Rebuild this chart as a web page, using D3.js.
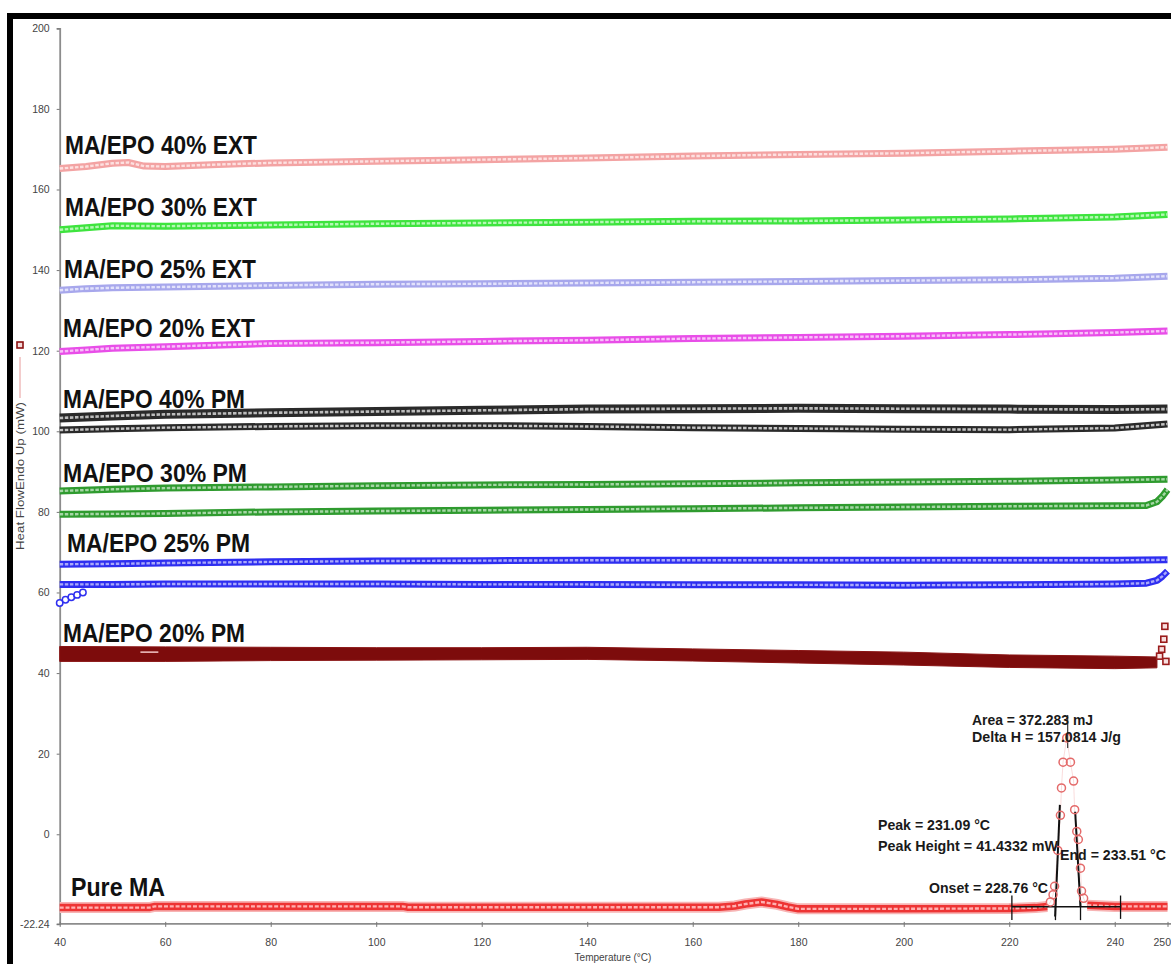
<!DOCTYPE html>
<html><head><meta charset="utf-8">
<script src="https://cdn.jsdelivr.net/npm/d3@7"></script>
<style>html,body{margin:0;padding:0;background:#fff;} svg{display:block;}</style>
</head><body><svg id="c" width="1171" height="964"></svg>
<script>
// ---------------- DATA ----------------
const xTicks = [40,60,80,100,120,140,160,180,200,220,240,250];
const yTicks = [200,180,160,140,120,100,80,60,40,20,0,-22.24];
const xLabel = "Temperature (°C)";
const yLabel = "Heat FlowEndo Up (mW)";

const tExt40 = [40,45,50,53,56,60,70,80,100,120,140,160,180,200,220,240,250];
const ma40Ext = [165.2,165.7,166.5,166.7,165.8,165.7,166.2,166.6,167.0,167.4,167.8,168.3,168.7,169.0,169.5,170.0,170.5];

const tExt = [40,45,50,60,80,100,120,140,160,180,200,220,240,250];
const ma30Ext = [150.0,150.5,151.0,150.9,151.2,151.5,151.7,151.9,152.1,152.2,152.4,152.7,153.2,153.8];
const ma25Ext = [135.0,135.4,135.6,135.8,136.2,136.5,136.6,136.8,137.0,137.2,137.4,137.6,138.0,138.5];
const ma20Ext = [119.8,120.2,120.6,121.0,121.8,122.0,122.3,122.6,123.0,123.3,123.6,124.0,124.5,124.9];

const tPM = [40,50,60,80,100,120,140,160,180,200,220,240,250];
const ma40PmA = [103.3,103.8,104.2,104.6,104.9,105.2,105.5,105.6,105.7,105.6,105.5,105.4,105.5];
const ma40PmB = [100.3,100.6,100.9,101.2,101.4,101.4,101.2,100.9,100.7,100.5,100.4,100.8,101.8];
const ma30PmA = [85.2,85.6,85.9,86.2,86.5,86.7,86.8,87.0,87.2,87.4,87.6,87.9,88.1];
const ma25PmA = [67.0,67.1,67.3,67.6,67.8,67.9,68.0,68.0,68.0,68.0,68.0,68.0,68.1];

const tPMhook = [40,50,60,80,100,120,140,160,180,200,220,240,246,248,249,250];
const ma30PmB = [79.4,79.5,79.6,80.0,80.2,80.4,80.6,80.8,81.0,81.2,81.4,81.5,81.6,82.5,83.8,85.5];
const ma25PmB = [62.0,62.0,62.1,62.1,62.1,62.0,62.0,61.9,61.9,61.8,61.9,62.1,62.3,63.0,64.0,65.3];

const tPM25Start = [40,41.1,42.2,43.3,44.4];
const ma25PmStart = [57.4,58.2,58.8,59.4,60.0];

const tPM20 = [40,60,80,100,120,140,160,180,200,220,240,248];
const ma20PmTop = [46.6,46.5,46.4,46.3,46.3,46.4,46.0,45.6,45.2,44.5,44.2,44.0];
const ma20PmBottom = [42.9,42.9,43.1,43.2,43.3,43.4,43.0,42.5,42.0,41.4,41.1,41.3];
const tPM20End = [248.5,248.9,249.3,249.5,249.7];
const ma20PmEnd = [44.2,45.9,48.4,51.6,42.9];

const tPure = [40,57,58,80,100,105,106,120,140,160,165,168,170,173,176,178,180,200,220,225,227.2,
  227.8,228.3,228.6,229.2,229.7,229.9,230.2,230.9,231.6,232.2,232.4,232.8,233.1,233.5,233.7,234.1,
  234.8,240,250];
const pureMA = [-18.2,-18.2,-17.9,-17.9,-17.9,-17.9,-18.1,-18.1,-18.1,-18.1,-18.1,-17.8,-17.3,-16.8,-17.4,-18.0,-18.5,-18.5,-18.4,-18.2,-17.9,
  -16.8,-15.0,-12.9,-4.0,4.7,11.5,17.9,23.9,17.9,13.2,6.1,0.7,-1.3,-8.4,-14.1,-15.9,
  -17.6,-17.9,-17.9];
const peakStart = 227.2, peakEnd = 234.8;

// analysis construction lines (temperature, value) pairs
const integBaseline = [[220.5,-18.0],[241.1,-18.0]];
const limitTicks = [[[220.5,-15.2],[220.5,-21.3]],[[241.1,-15.2],[241.1,-21.0]],
                    [[228.76,-17.1],[228.76,-21.3]],[[233.51,-17.1],[233.51,-21.3]]];
const tangentLeft = [[228.7,-20.4],[229.6,7.3]];
const tangentRight = [[232.5,5.6],[233.5,-18.0]];
const peakLine = [[231.09,21.4],[231.09,29.6]];

const seriesLabels = ["MA/EPO 40% EXT","MA/EPO 30% EXT","MA/EPO 25% EXT","MA/EPO 20% EXT",
  "MA/EPO 40% PM","MA/EPO 30% PM","MA/EPO 25% PM","MA/EPO 20% PM","Pure MA"];
const annotTexts = ["Area = 372.283 mJ","Delta H = 157.0814 J/g","Peak = 231.09 °C",
  "Peak Height = 41.4332 mW","End = 233.51 °C","Onset = 228.76 °C"];

// ---------------- CHART ----------------
const svg = d3.select("#c");
const x = d3.scaleLinear().domain([40,250]).range([59.7,1167.5]);
const y = d3.scaleLinear().domain([-22.24,200]).range([923.9,28.3]);
const zip = (ts, vs) => ts.map((t,i)=>[t,vs[i]]);
const line = d3.line().x(d=>x(d[0])).y(d=>y(d[1]));

// frame
svg.append("rect").attr("x",7).attr("y",13).attr("width",1164).attr("height",6).attr("fill","#000");
svg.append("rect").attr("x",7).attr("y",13).attr("width",6).attr("height",951).attr("fill","#000");

// axes
const fontT = "'Liberation Sans', Arial, sans-serif";
const yAxis = d3.axisLeft(y).tickValues(yTicks).tickSize(3).tickPadding(7)
  .tickFormat(d => d === -22.24 ? "-22.24" : d3.format("d")(d));
const gy = svg.append("g").attr("transform",`translate(${x(40)},0)`).call(yAxis);
const xAxis = d3.axisBottom(x).tickValues(xTicks).tickSize(3).tickPadding(12).tickFormat(d3.format("d"));
const gx = svg.append("g").attr("transform",`translate(0,${y(-22.24)})`).call(xAxis);
[gx,gy].forEach(g=>{
  g.select(".domain").attr("stroke","#8c8c8c").attr("stroke-width",1.8);
  g.selectAll(".tick line").attr("stroke","#777").attr("stroke-width",1);
  g.selectAll(".tick text").attr("fill","#444").attr("font-family",fontT).attr("font-size",10.5);
});
gx.select(".domain").attr("d",`M${x(40)},0H1171`);
gx.selectAll(".tick").append("line").attr("y2",-2).attr("stroke","#777");
gx.selectAll(".tick").filter(d=>d===250).select("text").attr("text-anchor","end").attr("dx",3);
svg.append("text").attr("x",613).attr("y",961).attr("text-anchor","middle")
  .attr("font-family",fontT).attr("font-size",10).attr("fill","#444").text(xLabel);

// y legend
svg.append("rect").attr("x",17).attr("y",342).attr("width",6).attr("height",6)
  .attr("fill","#f3dada").attr("stroke","#8b1010").attr("stroke-width",1.6);
svg.append("line").attr("x1",20).attr("x2",20).attr("y1",357).attr("y2",398).attr("stroke","#e79a9a").attr("stroke-width",1);
svg.append("text").attr("transform","translate(24,476) rotate(-90)").attr("text-anchor","middle")
  .attr("font-family",fontT).attr("font-size",10.5).attr("fill","#444")
  .attr("textLength",148).attr("lengthAdjust","spacingAndGlyphs").text(yLabel);

// banded marker lines
function band(data, outer, inner, w, wi){
  const g = svg.append("g");
  g.append("path").attr("d",line(data)).attr("fill","none").attr("stroke",outer)
    .attr("stroke-width",w).attr("stroke-linejoin","round");
  g.append("path").attr("d",line(data)).attr("fill","none").attr("stroke",inner)
    .attr("stroke-width",wi).attr("stroke-dasharray","3.5 1.6");
}
band(zip(tExt40,ma40Ext),"#f3a3a3","#fde0e0",7,2.4);
band(zip(tExt,ma30Ext),"#3ee43e","#b5f7b5",7,2.4);
band(zip(tExt,ma25Ext),"#a7a7ec","#e2e2fb",7,2.4);
band(zip(tExt,ma20Ext),"#e84ee8","#f8c0f8",7,2.4);
band(zip(tPM,ma40PmA),"#2a2a2a","#bdbdbd",9,2.6);
band(zip(tPM,ma40PmB),"#2a2a2a","#c4c4c4",7,2.4);
band(zip(tPM,ma30PmA),"#2f9b2f","#a6d6a6",7,2.4);
band(zip(tPMhook,ma30PmB),"#2f9b2f","#a6d6a6",7,2.4);
band(zip(tPM,ma25PmA),"#2e2ef0","#a9a9fa",7,2.4);
band(zip(tPMhook,ma25PmB),"#2e2ef0","#a9a9fa",7,2.4);

// 25% PM start circles
svg.append("g").selectAll("circle").data(zip(tPM25Start,ma25PmStart)).join("circle")
  .attr("cx",d=>x(d[0])).attr("cy",d=>y(d[1])).attr("r",3.2)
  .attr("fill","#fff").attr("stroke","#3030f0").attr("stroke-width",1.5);

// 20% PM dark band
const area = d3.area().x(d=>x(d[0])).y0(d=>y(d[2])).y1(d=>y(d[1]));
svg.append("path").datum(tPM20.map((t,i)=>[t,ma20PmTop[i],ma20PmBottom[i]]))
  .attr("d",area).attr("fill","#7d0c0c").attr("stroke","#8a1414").attr("stroke-width",1);
svg.append("line").attr("x1",x(55.3)).attr("x2",x(58.7)).attr("y1",y(45.2)).attr("y2",y(45.2))
  .attr("stroke","#f3c6c6").attr("stroke-width",1.5);
svg.append("g").selectAll("rect").data(zip(tPM20End,ma20PmEnd)).join("rect")
  .attr("x",d=>x(d[0])-3).attr("y",d=>y(d[1])-3).attr("width",6).attr("height",6)
  .attr("fill","#f8e0e0").attr("stroke","#9a1c1c").attr("stroke-width",1.6);

// Pure MA
const pure = zip(tPure,pureMA);
const pureLine = d3.line().defined(d=>d[0]<=peakStart||d[0]>=peakEnd).x(d=>x(d[0])).y(d=>y(d[1]));
svg.append("path").attr("d",pureLine(pure)).attr("fill","none").attr("stroke","#f7b4b4").attr("stroke-width",11);
svg.append("path").attr("d",pureLine(pure)).attr("fill","none").attr("stroke","#ee3434").attr("stroke-width",7.5);
svg.append("path").attr("d",pureLine(pure)).attr("fill","none").attr("stroke","#ffb0b0")
  .attr("stroke-width",2.4).attr("stroke-dasharray","4 1.8");
svg.append("path").attr("d",line(pure.filter(d=>d[0]>=peakStart&&d[0]<=peakEnd)))
  .attr("fill","none").attr("stroke","#f6c4c4").attr("stroke-width",0.6);

// analysis construction lines
const aG = svg.append("g").attr("stroke","#111").attr("fill","none");
aG.append("path").attr("d",line(integBaseline)).attr("stroke-width",1.6);
limitTicks.forEach(s=>aG.append("path").attr("d",line(s)).attr("stroke-width",1.3));
aG.append("path").attr("d",line(tangentLeft)).attr("stroke-width",2);
aG.append("path").attr("d",line(tangentRight)).attr("stroke-width",2);
aG.append("path").attr("d",line(peakLine)).attr("stroke-width",1);

// peak circles
svg.append("g").selectAll("circle").data(pure.filter(d=>d[0]>peakStart&&d[0]<peakEnd)).join("circle")
  .attr("cx",d=>x(d[0])).attr("cy",d=>y(d[1])).attr("r",4)
  .attr("fill","none").attr("stroke","#e46a6a").attr("stroke-width",1.5);

// series labels
const labPos = [[65,154,192],[65,216,192],[64,278,192],[63,337,192],[63,408,182],[63,482,184],[67,552,183],[63,642,182],[71,896,94]];
svg.append("g").selectAll("text").data(seriesLabels).join("text")
  .attr("x",(d,i)=>labPos[i][0]).attr("y",(d,i)=>labPos[i][1])
  .attr("textLength",(d,i)=>labPos[i][2]).attr("lengthAdjust","spacingAndGlyphs")
  .attr("font-family",fontT).attr("font-weight","bold").attr("font-size",26).attr("fill","#111")
  .text(d=>d);

// annotation texts
const annPos = [[972,725,121],[972,742,149],[878,830,112],[878,851,180],[1060,860,106],[929,893,119]];
svg.append("g").selectAll("text").data(annotTexts).join("text")
  .attr("x",(d,i)=>annPos[i][0]).attr("y",(d,i)=>annPos[i][1])
  .attr("textLength",(d,i)=>annPos[i][2]).attr("lengthAdjust","spacingAndGlyphs")
  .attr("font-family",fontT).attr("font-weight","bold").attr("font-size",15).attr("fill","#1a1a1a")
  .text(d=>d);
</script>
</body></html>
